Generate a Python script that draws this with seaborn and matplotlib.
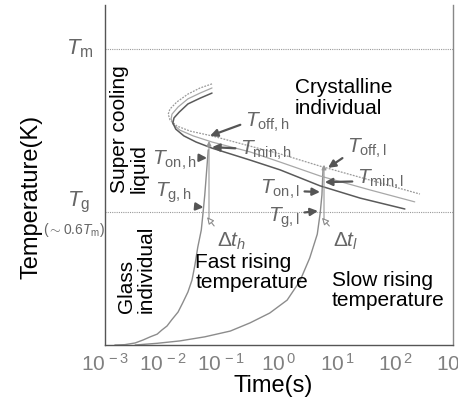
import numpy as np
import pandas as pd
import matplotlib
matplotlib.use("Agg")
import matplotlib.pyplot as plt
import seaborn as sns

# heating curves: log10(time / s) and temperature (fraction of axis height)
fast_log_t = [-2.83, -2.66, -2.48, -2.34, -2.22, -2.10, -2.02, -1.93, -1.85,
              -1.74, -1.66, -1.57, -1.50, -1.45, -1.40, -1.34, -1.31, -1.28,
              -1.26, -1.24, -1.22]
fast_temp = [0.0, 0.001, 0.006, 0.015, 0.024, 0.032, 0.044, 0.056, 0.074,
             0.097, 0.124, 0.156, 0.191, 0.235, 0.288, 0.338, 0.388, 0.441,
             0.485, 0.529, 0.574]
slow_log_t = [-2.48, -2.10, -1.71, -1.28, -0.84, -0.50, -0.16, 0.14, 0.36,
              0.53, 0.66, 0.71, 0.74, 0.76]
slow_temp = [0.0, 0.005, 0.012, 0.024, 0.041, 0.065, 0.094, 0.132, 0.188,
             0.256, 0.326, 0.388, 0.441, 0.521]

# crystallisation C-curves (offset, middle, onset)
ccurve_a_log_t = [-1.155, -1.36, -1.57, -1.76, -1.88, -1.91, -1.88, -1.76,
                  -1.53, -1.155, -0.50, 0.02, 0.71, 1.57, 2.43]
ccurve_a_temp = [0.768, 0.756, 0.738, 0.715, 0.694, 0.679, 0.662, 0.644,
                 0.629, 0.615, 0.585, 0.562, 0.526, 0.485, 0.444]
ccurve_b_log_t = [-1.155, -1.36, -1.57, -1.74, -1.845, -1.86, -1.83, -1.71,
                  -1.48, -1.155, -0.50, 0.02, 0.71, 1.57, 2.34]
ccurve_b_temp = [0.756, 0.741, 0.724, 0.700, 0.679, 0.665, 0.650, 0.632,
                 0.615, 0.597, 0.568, 0.538, 0.497, 0.456, 0.421]
ccurve_c_log_t = [-1.155, -1.36, -1.57, -1.72, -1.81, -1.83, -1.78, -1.64,
                  -1.43, -1.155, -0.50, 0.02, 0.71, 1.40, 2.17]
ccurve_c_temp = [0.741, 0.726, 0.709, 0.685, 0.668, 0.653, 0.635, 0.615,
                 0.597, 0.579, 0.544, 0.515, 0.468, 0.432, 0.400]

T_MELT = 0.871
T_GLASS = 0.391
decades = [-3, -2, -1, 0, 1, 2, 3]

# time at which each heating curve is marked (delta t bars)
mark_fast_log_t = -1.207
mark_slow_log_t = 0.776

sns.set_theme(style="white")
plt.rcParams["font.family"] = ["Liberation Sans", "DejaVu Sans"]
plt.rcParams["mathtext.fontset"] = "custom"
plt.rcParams["mathtext.rm"] = "Liberation Sans"
plt.rcParams["mathtext.it"] = "Liberation Sans:italic"
plt.rcParams["mathtext.bf"] = "Liberation Sans:bold"

GREY = "#666666"

fig = plt.figure(figsize=(4.58, 4.0), dpi=100)
ax = fig.add_axes([105 / 458, 55 / 400, 348 / 458, 340 / 400])


def curve_df(log_t, temp):
    return pd.DataFrame({"time": np.power(10.0, log_t), "temp": temp})


# heating curves
for lt, tp in [(fast_log_t, fast_temp), (slow_log_t, slow_temp)]:
    sns.lineplot(data=curve_df(lt, tp), x="time", y="temp", sort=False,
                 estimator=None, color="#8c8c8c", lw=1.0, ax=ax)

# C-curves
sns.lineplot(data=curve_df(ccurve_a_log_t, ccurve_a_temp), x="time", y="temp",
             sort=False, estimator=None, color="#9a9a9a", lw=0.9,
             linestyle=(0, (1.5, 1)), ax=ax)
sns.lineplot(data=curve_df(ccurve_b_log_t, ccurve_b_temp), x="time", y="temp",
             sort=False, estimator=None, color="#a8a8a8", lw=0.9, ax=ax)
sns.lineplot(data=curve_df(ccurve_c_log_t, ccurve_c_temp), x="time", y="temp",
             sort=False, estimator=None, color="#5a5a5a", lw=1.1, ax=ax)

# Tm and Tg reference lines
ax.axhline(T_MELT, color="#999999", lw=0.8, linestyle=(0, (1, 1)))
ax.axhline(T_GLASS, color="#999999", lw=0.8, linestyle=(0, (1, 1)))

# small vertical marker arrows at the Tg crossing
for lt, top in [(mark_fast_log_t, 0.60), (mark_slow_log_t, 0.53)]:
    ax.annotate("", xy=(10 ** lt, top), xytext=(10 ** lt, 0.36),
                arrowprops=dict(arrowstyle="-|>", color="#999999", lw=0.8,
                                mutation_scale=7, shrinkA=0, shrinkB=0))

ax.set_xscale("log")
ax.set_xlim(10.0 ** decades[0], 10.0 ** decades[-1])
ax.set_ylim(0, 1)
ax.set_xticks([10.0 ** d for d in decades])
ax.set_xticklabels([rf"$10^{{\,{d}}}$" for d in decades])
ax.minorticks_off()
ax.set_yticks([])
ax.tick_params(axis="x", direction="in", length=7, width=0.8, colors="#808080",
               labelsize=15, pad=6)

for side in ["left", "bottom"]:
    ax.spines[side].set_color("#555555")
    ax.spines[side].set_linewidth(1.0)
ax.spines["right"].set_color("#888888")
ax.spines["right"].set_linewidth(1.0)
ax.spines["top"].set_visible(False)

ax.set_xlabel("Time(s)", fontsize=17, color="black")
ax.xaxis.set_label_coords(0.483, -0.088)
ax.set_ylabel("Temperature(K)", fontsize=17, color="black")
ax.yaxis.set_label_coords(-0.18, 0.435)

# Tm / Tg labels on the left
ax.text(-0.072, 0.871, r"$T_{\rm m}$", transform=ax.transAxes, fontsize=16,
        color=GREY, ha="center", va="center")
ax.text(-0.075, 0.418, r"$T_{\rm g}$", transform=ax.transAxes, fontsize=16,
        color=GREY, ha="center", va="center")
ax.text(-0.09, 0.338, r"$(\sim0.6T_{\rm m})$", transform=ax.transAxes,
        fontsize=10, color=GREY, ha="center", va="center")

# region labels
txt = dict(transform=ax.transAxes, fontsize=15, color="black")
ax.text(0.546, 0.785, "Crystalline\nindividual", ha="left", va="top",
        linespacing=1.1, **txt)
ax.text(0.259, 0.27, "Fast rising\ntemperature", ha="left", va="top",
        linespacing=1.05, **txt)
ax.text(0.652, 0.218, "Slow rising\ntemperature", ha="left", va="top",
        linespacing=1.05, **txt)
ax.text(0.014, 0.447, "Super cooling\nliquid", rotation=90, ha="left",
        va="bottom", multialignment="left", linespacing=1.05, **txt)
ax.text(0.034, 0.094, "Glass\nindividual", rotation=90, ha="left",
        va="bottom", multialignment="left", linespacing=1.05, **txt)

# labelled arrows
dark = dict(arrowstyle="-|>", color="#555555", lw=1.6, mutation_scale=11,
            shrinkA=1, shrinkB=0)
hollow = dict(arrowstyle="-|>", fc="white", ec="#8a8a8a", lw=0.8,
              mutation_scale=10, shrinkA=1, shrinkB=0)

labels = [
    # text, tip (log t, T), text pos (axes frac), ha, relpos, style
    (r"$T_{\rm off,h}$", (-1.19, 0.615), (0.402, 0.656), "left", (0, 0.45), dark),
    (r"$T_{\rm min,h}$", (-1.155, 0.582), (0.388, 0.571), "left", (0, 0.6), dark),
    (r"$T_{\rm on,h}$", (-1.24, 0.55), (0.264, 0.544), "right", (1, 0.6), dark),
    (r"$T_{\rm g,h}$", (-1.30, 0.405), (0.144, 0.447), "left", (0.75, 0.0), dark),
    (r"$\Delta t_h$", (-1.24, 0.376), (0.322, 0.306), "left", (0.05, 0.95), hollow),
    (r"$T_{\rm on,l}$", (0.707, 0.45), (0.560, 0.459), "right", (1, 0.4), dark),
    (r"$T_{\rm g,l}$", (0.672, 0.394), (0.560, 0.374), "right", (1, 0.7), dark),
    (r"$\Delta t_l$", (0.741, 0.374), (0.655, 0.306), "left", (0.05, 0.95), hollow),
    (r"$T_{\rm off,l}$", (0.845, 0.521), (0.695, 0.579), "left", (0, 0.2), dark),
    (r"$T_{\rm min,l}$", (0.79, 0.479), (0.724, 0.488), "left", (0, 0.4), dark),
]
for text, (lt, temp), pos, ha, rel, style in labels:
    props = dict(style)
    props["relpos"] = rel
    ax.annotate(text, xy=(10 ** lt, temp), xycoords="data", xytext=pos,
                textcoords="axes fraction", fontsize=15, color=GREY, ha=ha,
                va="center", arrowprops=props)

fig.savefig("out.png", dpi=100)
